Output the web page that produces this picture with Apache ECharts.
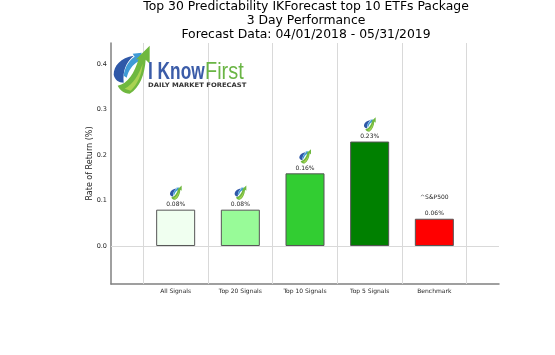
<!DOCTYPE html>
<html>
<head>
<meta charset="utf-8">
<style>
  html, body { margin: 0; padding: 0; background: #fff; }
  #chart { width: 555px; height: 355px; }
</style>
</head>
<body>
<div id="chart"></div>
<script src="https://cdn.jsdelivr.net/npm/echarts@6/dist/echarts.min.js"></script>
<script>
var categories = ['All Signals', 'Top 20 Signals', 'Top 10 Signals', 'Top 5 Signals', 'Benchmark']
var returns = [0.08, 0.08, 0.16, 0.23, 0.06]
var barColors = ['#f0fff0', '#98fb98', '#32cd32', '#008000', '#ff0000']
var yTicks = [0, 0.1, 0.2, 0.3, 0.4]
var dividers = [-0.5, 0.5, 1.5, 2.5, 3.5, 4.5]
var titleLines = [
  'Top 30 Predictability IKForecast top 10 ETFs Package',
  '3 Day Performance',
  'Forecast Data: 04/01/2018 - 05/31/2019'
]

// logo shapes, all drawn in a 37x50 box
var logoBox = 'M0 0L0 0ZM37 50L37 50Z'
var logoParts = [
  { color: '#2f58a8', d: 'M1 30C1 21 8 13 21 11C13 18 10 26 11 38C6 38 2 35 1 30Z' },
  { color: '#3f9bd6', d: 'M11 31C12 22 17 15 22 12L20 9L29 8L27 20L25 17C20 20 16 25 14 33Z' },
  { color: '#6fb83f', d: 'M5 41C15 39 22 28 26 14L23 15L37 1L37 19L33 15C32 30 27 43 17 49C11 49 7 45 5 41Z' },
  { color: '#a9d352', d: 'M12 44C21 39 26 30 30 19C29 30 25 39 18 46Z' }
]

var fontName = 'DejaVu Sans'
var textColor = '#262626'
var logoBars = [0, 1, 2, 3]
var bigLogoAt = [-0.688, 0.388]

// one scatter series per logo colour, small marks over the bars plus the big one top left
var logoSeries = logoParts.map(function (part) {
  return {
    type: 'scatter',
    z: 5,
    silent: true,
    symbol: 'path://' + logoBox + part.d,
    symbolSize: [12, 15],
    symbolOffset: [0, -17],
    itemStyle: { color: part.color, opacity: 1 },
    data: logoBars.map(function (i) { return [i, returns[i]] })
  }
}).concat(logoParts.map(function (part) {
  return {
    type: 'scatter',
    z: 6,
    silent: true,
    symbol: 'path://' + logoBox + part.d,
    symbolSize: [37, 50],
    itemStyle: { color: part.color, opacity: 1 },
    data: [bigLogoAt]
  }
}))

var chart = echarts.init(document.getElementById('chart'), null, { renderer: 'canvas' })
var option = {
  animation: false,
  backgroundColor: '#fff',
  title: {
    text: titleLines.join('\n'),
    left: 301,
    top: -5,
    textAlign: 'center',
    textStyle: { fontFamily: fontName, fontSize: 12.4, fontWeight: 'normal', color: '#000', lineHeight: 14 }
  },
  grid: { left: 111, right: 56, top: 43, bottom: 71 },
  xAxis: {
    type: 'value',
    min: -1,
    max: 5,
    splitLine: { show: false },
    axisLine: { onZero: false, lineStyle: { color: '#808080', width: 1.5 } },
    axisTick: { show: false },
    axisLabel: {
      customValues: [0, 1, 2, 3, 4],
      formatter: function (v) { return categories[v] },
      fontFamily: fontName,
      fontSize: 6,
      color: textColor,
      margin: 4
    }
  },
  yAxis: {
    type: 'value',
    min: -0.0837,
    max: 0.447,
    name: 'Rate of Return (%)',
    nameLocation: 'middle',
    nameGap: 17,
    nameMoveOverlap: false,
    nameTextStyle: { fontFamily: fontName, fontSize: 8, color: textColor },
    splitLine: { show: false },
    axisLine: { show: true, onZero: false, lineStyle: { color: '#808080', width: 1.5 } },
    axisTick: { show: false },
    axisLabel: {
      customValues: yTicks,
      formatter: function (v) { return v.toFixed(1) },
      fontFamily: fontName,
      fontSize: 6.5,
      color: textColor,
      margin: 4
    }
  },
  graphic: [
    {
      type: 'text',
      z: 20,
      x: 148,
      y: 60,
      scaleX: 0.72,
      style: { text: 'I Know', font: 'bold 24px "Liberation Sans"', fill: '#3b5ca8' }
    },
    {
      type: 'text',
      z: 20,
      x: 205,
      y: 60,
      scaleX: 0.83,
      style: { text: 'First', font: '24px "Liberation Sans"', fill: '#6ab545' }
    },
    {
      type: 'text',
      z: 20,
      x: 148,
      y: 82,
      scaleX: 1.1,
      style: { text: 'DAILY MARKET FORECAST', font: 'bold 6.2px "DejaVu Sans"', fill: '#333' }
    }
  ],
  series: [
    {
      type: 'line',
      z: 1,
      silent: true,
      symbol: 'none',
      data: [],
      markLine: {
        silent: true,
        symbol: 'none',
        label: { show: false },
        lineStyle: { color: '#d9d9d9', width: 1, type: 'solid' },
        data: dividers.map(function (x) { return { xAxis: x } }).concat([{ yAxis: 0 }])
      }
    },
    {
      type: 'bar',
      z: 2,
      barWidth: 39,
      data: returns.map(function (v, i) {
        return {
          value: [i, v],
          itemStyle: { color: barColors[i], borderColor: '#555', borderWidth: 1 }
        }
      }),
      label: {
        show: true,
        position: 'top',
        distance: 1,
        fontFamily: fontName,
        fontSize: 6,
        color: textColor,
        lineHeight: 8,
        formatter: function (p) {
          var txt = p.value[1].toFixed(2) + '%'
          return categories[p.dataIndex] === 'Benchmark' ? '^S&P500\n\n' + txt : txt
        }
      }
    }
  ].concat(logoSeries)
}
chart.setOption(option)
</script>
</body>
</html>
